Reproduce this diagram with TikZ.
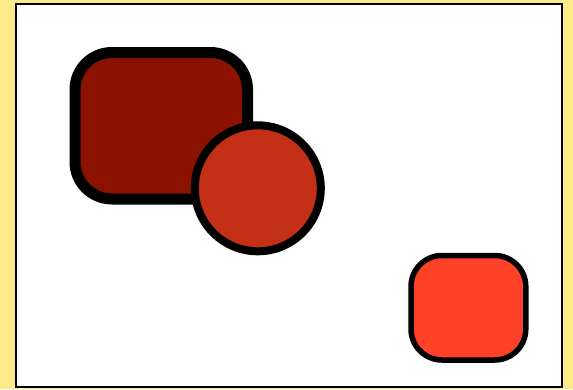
\documentclass[tikz,border=0pt]{standalone}
\definecolor{bgyellow}{HTML}{FFEA8A}
\definecolor{darkred}{HTML}{8B1100}
\definecolor{midred}{HTML}{C33015}
\definecolor{brightred}{HTML}{FF4128}
\begin{document}
\begin{tikzpicture}[x=1pt,y=-1pt,
  shapebox/.style={draw=black,inner sep=0pt,outer sep=0pt},
]
\fill[bgyellow] (0,0) rectangle (573,389);
\useasboundingbox (0,0) rectangle (573,389);
\node[shapebox,fill=white,line width=2pt,minimum width=546pt,minimum height=383pt] (frame) at (289,195.5) {};
\node[shapebox,fill=darkred,line width=11pt,rounded corners=37pt,minimum width=172.5pt,minimum height=146.5pt] (big) at (161.25,125.75) {};
\node[shapebox,circle,fill=midred,line width=8pt,minimum size=126pt] (circ) at (257.8,188.3) {};
\node[shapebox,fill=brightred,line width=5.5pt,rounded corners=31pt,minimum width=114.8pt,minimum height=104.5pt] (small) at (468.4,307.75) {};
\end{tikzpicture}
\end{document}
